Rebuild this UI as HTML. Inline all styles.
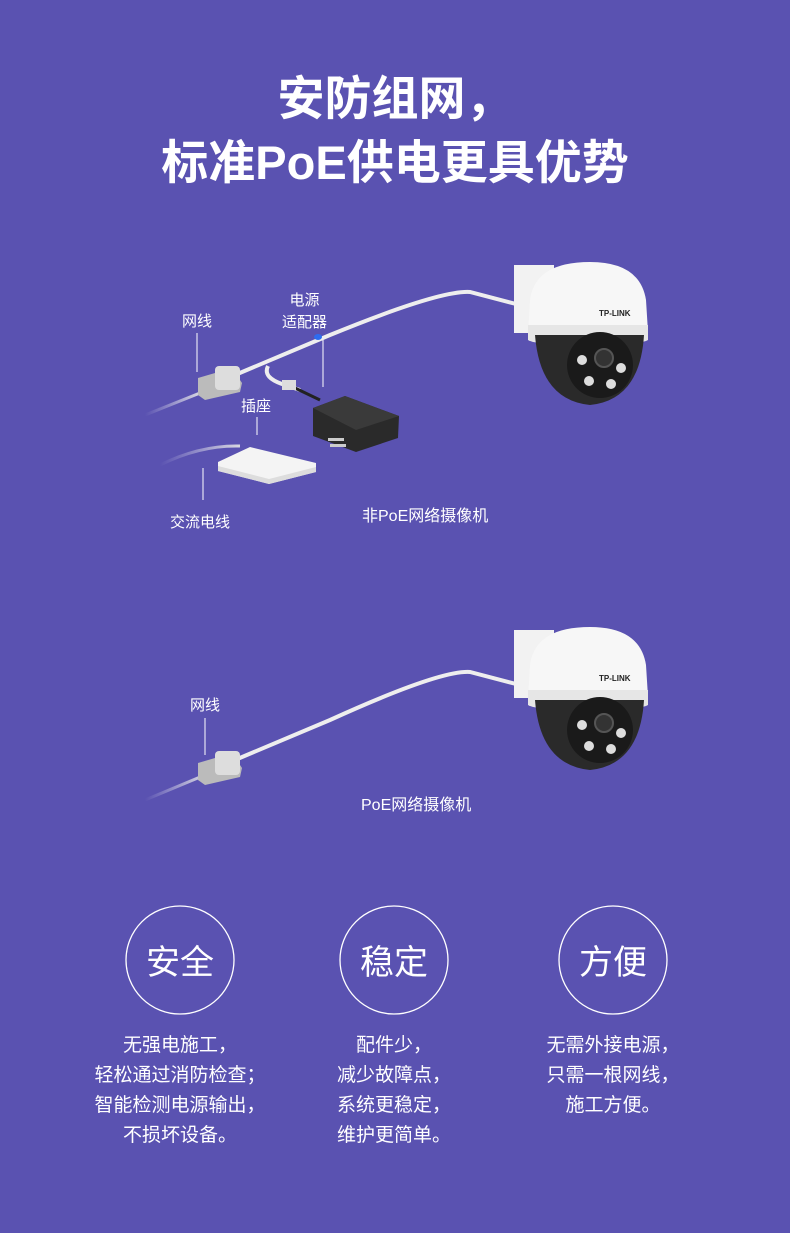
<!DOCTYPE html>
<html><head><meta charset="utf-8"><style>
*{margin:0;padding:0}
body{width:790px;height:1233px;background:#5a52b1;position:relative;overflow:hidden;font-family:"Liberation Sans","Noto Sans CJK SC",sans-serif;color:#fff}
.t{position:absolute;white-space:nowrap}
.c{position:absolute;text-align:center;font-size:19px;line-height:30px}
</style></head><body>
<div class="t" style="left:0;width:790px;text-align:center;top:67px;font-size:47px;font-weight:bold;line-height:64px">安防组网，<br>标准PoE供电更具优势</div>

<svg width="790" height="1233" style="position:absolute;left:0;top:0">
<defs>
<linearGradient id="fade" x1="0" x2="1"><stop offset="0" stop-color="#cfcde8" stop-opacity="0"/><stop offset="1" stop-color="#d8d8e0"/></linearGradient>
<g id="cam">
<rect x="514" y="265" width="40" height="68" fill="#f2f2f2"/>
<path d="M530 300 Q535 262 590 262 Q640 262 646 300 L648 332 L528 334 Z" fill="#f7f7f7"/>
<path d="M528 325 L648 325 L648 340 Q640 345 590 345 Q535 345 528 340Z" fill="#e6e6e6"/>
<path d="M535 335 Q540 400 590 405 Q640 400 644 335Z" fill="#2a2a2a"/>
<circle cx="600" cy="365" r="33" fill="#1a1a1a"/>
<circle cx="604" cy="358" r="9" fill="#333" stroke="#555" stroke-width="2"/>
<circle cx="582" cy="360" r="5" fill="#ddd"/><circle cx="621" cy="368" r="5" fill="#ddd"/>
<circle cx="589" cy="381" r="5" fill="#ddd"/><circle cx="611" cy="384" r="5" fill="#ddd"/>
<text x="599" y="316" font-size="8" font-weight="bold" fill="#222" font-family="Liberation Sans">TP-LINK</text>
</g>
</defs>
<path d="M145 415 L200 393" stroke="url(#fade)" stroke-width="3" fill="none"/>
<path d="M235 375 L330 335 Q440 290 470 292 L520 305" stroke="#eee" stroke-width="4" fill="none"/>
<path d="M268 366 Q262 378 285 385 L300 390" stroke="#eee" stroke-width="4" fill="none"/>
<path d="M295 388 L320 400" stroke="#222" stroke-width="3"/>
<rect x="282" y="380" width="14" height="10" fill="#ddd"/>
<path d="M198 378 L232 368 L242 383 L240 392 L205 400 L198 395Z" fill="#bbb"/>
<rect x="215" y="366" width="25" height="24" rx="4" fill="#ddd"/>
<path d="M313 408 L345 396 L399 416 L398 438 L356 452 L313 436Z" fill="#2a2a2a"/>
<path d="M313 408 L345 396 L399 416 L356 430Z" fill="#3a3a3a"/>
<rect x="328" y="438" width="16" height="3" fill="#ccc"/><rect x="330" y="444" width="16" height="3" fill="#ccc"/>
<path d="M160 465 Q200 445 240 446" stroke="url(#fade)" stroke-width="3" fill="none"/>
<path d="M218 462 L250 447 L316 463 L316 472 L269 484 L218 471Z" fill="#f4f4f4"/>
<path d="M218 471 L269 484 L316 472 L316 467 L269 479 L218 466Z" fill="#ddd"/>
<g stroke="#fff" stroke-width="1"><line x1="197" y1="333" x2="197" y2="372"/><line x1="257" y1="417" x2="257" y2="435"/><line x1="323" y1="340" x2="323" y2="387"/><line x1="203" y1="468" x2="203" y2="500"/></g>
<ellipse cx="318" cy="337" rx="4" ry="3" fill="#2d6cf0"/>
<use href="#cam"/>
<path d="M145 800 L205 775" stroke="url(#fade)" stroke-width="3" fill="none"/>
<path d="M235 760 L330 720 Q440 670 470 672 L520 685" stroke="#eee" stroke-width="4" fill="none"/>
<path d="M198 763 L232 753 L242 768 L240 777 L205 785 L198 780Z" fill="#bbb"/>
<rect x="215" y="751" width="25" height="24" rx="4" fill="#ddd"/>
<line x1="205" y1="718" x2="205" y2="755" stroke="#fff"/>
<use href="#cam" y="365"/>
<g fill="none" stroke="#fff" stroke-width="1.3"><circle cx="180" cy="960" r="54"/><circle cx="394" cy="960" r="54"/><circle cx="613" cy="960" r="54"/></g>
</svg>

<div class="t" style="left:182px;top:310px;font-size:15px">网线</div>
<div class="t" style="left:282px;top:290px;font-size:15px;text-align:center;line-height:22px">电源<br>适配器</div>
<div class="t" style="left:241px;top:395px;font-size:15px">插座</div>
<div class="t" style="left:170px;top:511px;font-size:15px">交流电线</div>
<div class="t" style="left:362px;top:502px;font-size:16px">非PoE网络摄像机</div>
<div class="t" style="left:190px;top:694px;font-size:15px">网线</div>
<div class="t" style="left:361px;top:791px;font-size:16px">PoE网络摄像机</div>

<div class="t" style="left:126px;width:108px;text-align:center;top:935px;font-size:34px">安全</div>
<div class="t" style="left:340px;width:108px;text-align:center;top:935px;font-size:34px">稳定</div>
<div class="t" style="left:559px;width:108px;text-align:center;top:935px;font-size:34px">方便</div>

<div class="c" style="left:80px;width:200px;top:1031px">无强电施工，<br>轻松通过消防检查；<br>智能检测电源输出，<br>不损坏设备。</div>
<div class="c" style="left:294px;width:200px;top:1031px">配件少，<br>减少故障点，<br>系统更稳定，<br>维护更简单。</div>
<div class="c" style="left:508px;width:210px;top:1031px">无需外接电源，<br>只需一根网线，<br>施工方便。</div>
</body></html>
